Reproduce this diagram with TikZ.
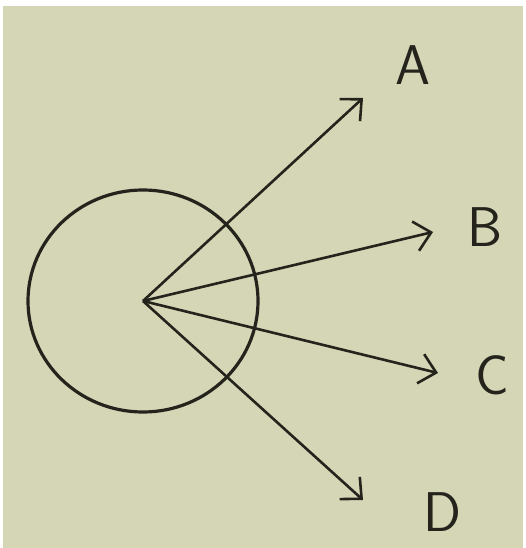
\documentclass[tikz,border=0pt]{standalone}
\usetikzlibrary{positioning, shapes.geometric, arrows.meta}
\definecolor{paper}{HTML}{D5D6B6}
\definecolor{ink}{HTML}{24241C}

\begin{document}
\begin{tikzpicture}[
  x=1pt, y=-1pt,
  lbl/.style={font=\sffamily\fontsize{56}{60}\selectfont, text=ink},
  ray/.style={-{Straight Barb[length=16pt, width=30pt, line width=2.6pt]}, line width=2.6pt, draw=ink}
]
\useasboundingbox (0,0) rectangle (525,548);
\fill[white] (0,0) rectangle (525,548);
\fill[paper] (3,6) rectangle (523,548);

\node[draw=ink, line width=3.2pt, ellipse, minimum width=230pt, minimum height=222pt] (ball) at (143,301) {};

\coordinate (tA) at (363,98);
\coordinate (tB) at (433,232);
\coordinate (tC) at (438,373);
\coordinate (tD) at (363,500);

\node[lbl] (A) at (413,65) {A};
\node[lbl] (B) at (485,227) {B};
\node[lbl] (C) at (492,375) {C};
\node[lbl] (D) at (442,512) {D};

\draw[ray] (ball.center) -- (tA);
\draw[ray] (ball.center) -- (tB);
\draw[ray] (ball.center) -- (tC);
\draw[ray] (ball.center) -- (tD);
\end{tikzpicture}
\end{document}
